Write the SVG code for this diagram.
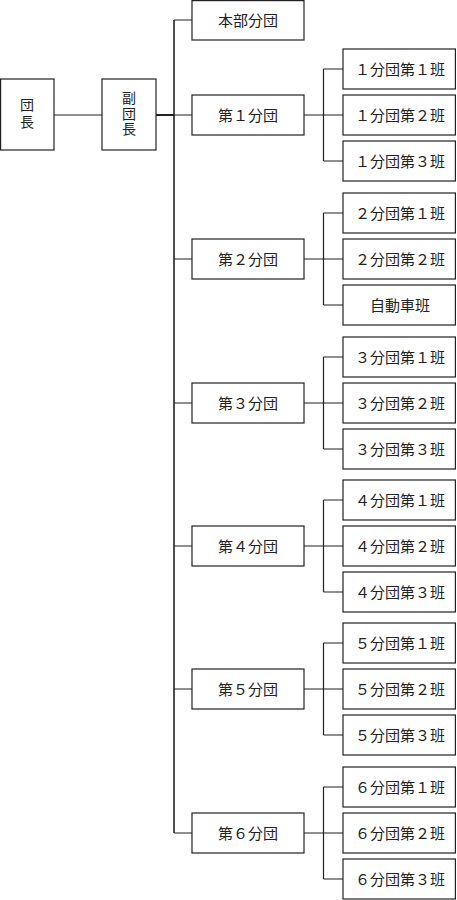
<svg xmlns="http://www.w3.org/2000/svg" width="457" height="900" viewBox="0 0 457 900">
<style>
.box{fill:#fff;stroke:#222;stroke-width:1.2}
.t{font-family:"Noto Sans CJK JP","Noto Sans CJK SC",sans-serif;font-size:15px;fill:#222;text-anchor:middle}
.v{font-size:14px;writing-mode:vertical-rl;glyph-orientation-vertical:0}
.ln{stroke:#222;stroke-width:1.2;fill:none}
.thick{stroke-width:2}
</style>
<rect width="457" height="900" fill="#fff"/>
<g id="connectors">
<line class="ln" x1="54" y1="115" x2="102" y2="115"/>
<line class="ln thick" x1="156" y1="115" x2="174" y2="115"/>
<line class="ln" x1="174" y1="20" x2="174" y2="833" style="stroke-width:1.6"/>
<path class="ln" d="M174 20H192M174 115H192M174 259H192M174 403H192M174 546H192M174 689H192M174 833H192"/>
<path class="ln" d="M304 115H343M323.5 69V161M323.5 69H343M323.5 161H343"/>
<path class="ln" d="M304 259H343M323.5 213V305M323.5 213H343M323.5 305H343"/>
<path class="ln" d="M304 403H343M323.5 357V449M323.5 357H343M323.5 449H343"/>
<path class="ln" d="M304 546H343M323.5 500V592M323.5 500H343M323.5 592H343"/>
<path class="ln" d="M304 689H343M323.5 643V735M323.5 643H343M323.5 735H343"/>
<path class="ln" d="M304 833H343M323.5 787V879M323.5 787H343M323.5 879H343"/>
</g>
<g id="dancho"><rect class="box" x="0.6" y="79" width="53.4" height="71"/><text class="t v" x="27" y="115" style="letter-spacing:3px">団長</text></g>
<g id="fukudancho"><rect class="box" x="102" y="79" width="54" height="71"/><text class="t v" x="129" y="114" style="letter-spacing:1.5px">副団長</text></g>
<g id="honbu"><rect class="box" x="192" y="0.6" width="112" height="39.4"/><text class="t" x="248" y="25.5">本部分団</text></g>

<g id="bundan1"><rect class="box" x="192" y="95" width="112" height="40"/><text class="t" x="248" y="120.5">第１分団</text></g>
<g id="b1-1"><rect class="box" x="343" y="49" width="112.4" height="40"/><text class="t" x="400" y="74.5">１分団第１班</text></g>
<g id="b1-2"><rect class="box" x="343" y="95" width="112.4" height="40"/><text class="t" x="400" y="120.5">１分団第２班</text></g>
<g id="b1-3"><rect class="box" x="343" y="141" width="112.4" height="40"/><text class="t" x="400" y="166.5">１分団第３班</text></g>

<g id="bundan2"><rect class="box" x="192" y="239" width="112" height="40"/><text class="t" x="248" y="264.5">第２分団</text></g>
<g id="b2-1"><rect class="box" x="343" y="193" width="112.4" height="40"/><text class="t" x="400" y="218.5">２分団第１班</text></g>
<g id="b2-2"><rect class="box" x="343" y="239" width="112.4" height="40"/><text class="t" x="400" y="264.5">２分団第２班</text></g>
<g id="b2-3"><rect class="box" x="343" y="285" width="112.4" height="40"/><text class="t" x="400" y="310.5">自動車班</text></g>

<g id="bundan3"><rect class="box" x="192" y="383" width="112" height="40"/><text class="t" x="248" y="408.5">第３分団</text></g>
<g id="b3-1"><rect class="box" x="343" y="337" width="112.4" height="40"/><text class="t" x="400" y="362.5">３分団第１班</text></g>
<g id="b3-2"><rect class="box" x="343" y="383" width="112.4" height="40"/><text class="t" x="400" y="408.5">３分団第２班</text></g>
<g id="b3-3"><rect class="box" x="343" y="429" width="112.4" height="40"/><text class="t" x="400" y="454.5">３分団第３班</text></g>

<g id="bundan4"><rect class="box" x="192" y="526" width="112" height="40"/><text class="t" x="248" y="551.5">第４分団</text></g>
<g id="b4-1"><rect class="box" x="343" y="480" width="112.4" height="40"/><text class="t" x="400" y="505.5">４分団第１班</text></g>
<g id="b4-2"><rect class="box" x="343" y="526" width="112.4" height="40"/><text class="t" x="400" y="551.5">４分団第２班</text></g>
<g id="b4-3"><rect class="box" x="343" y="572" width="112.4" height="40"/><text class="t" x="400" y="597.5">４分団第３班</text></g>

<g id="bundan5"><rect class="box" x="192" y="669" width="112" height="40"/><text class="t" x="248" y="694.5">第５分団</text></g>
<g id="b5-1"><rect class="box" x="343" y="623" width="112.4" height="40"/><text class="t" x="400" y="648.5">５分団第１班</text></g>
<g id="b5-2"><rect class="box" x="343" y="669" width="112.4" height="40"/><text class="t" x="400" y="694.5">５分団第２班</text></g>
<g id="b5-3"><rect class="box" x="343" y="715" width="112.4" height="40"/><text class="t" x="400" y="740.5">５分団第３班</text></g>

<g id="bundan6"><rect class="box" x="192" y="813" width="112" height="40"/><text class="t" x="248" y="838.5">第６分団</text></g>
<g id="b6-1"><rect class="box" x="343" y="767" width="112.4" height="40"/><text class="t" x="400" y="792.5">６分団第１班</text></g>
<g id="b6-2"><rect class="box" x="343" y="813" width="112.4" height="40"/><text class="t" x="400" y="838.5">６分団第２班</text></g>
<g id="b6-3"><rect class="box" x="343" y="859" width="112.4" height="40"/><text class="t" x="400" y="884.5">６分団第３班</text></g>
</svg>
